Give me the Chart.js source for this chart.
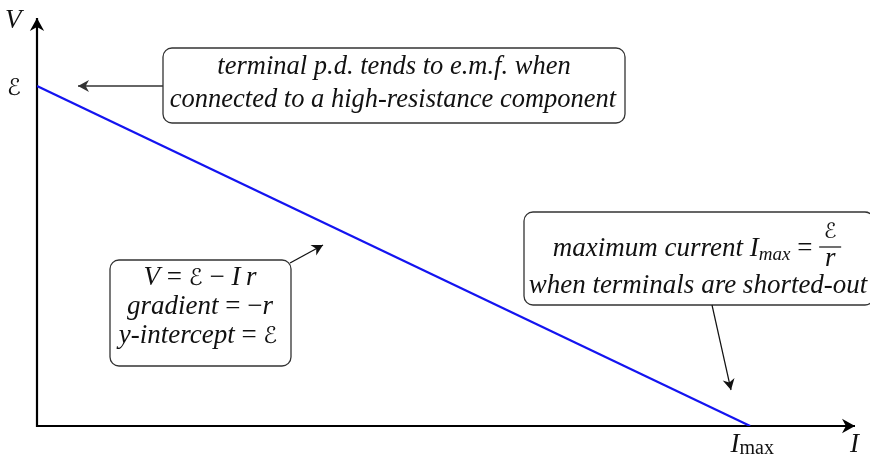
<!DOCTYPE html>
<html>
<head>
<meta charset="utf-8">
<script src="https://cdn.jsdelivr.net/npm/chart.js@4/dist/chart.umd.min.js"></script>
<style>
  html, body { margin: 0; padding: 0; background: #fff; }
  canvas { display: block; }
</style>
</head>
<body>
<canvas id="viChart" width="870" height="458"></canvas>
<script>
// I–V line of a cell: V = E - I r  (arbitrary units, E = 1, Imax = 1)
const currents = [0, 1];
const voltages = [1, 0];
const emfValue = 1;
const imaxValue = 1;
const xAxisMax = 1.147;
const yAxisMax = 1.2;

const SERIF = "'Liberation Serif', 'DejaVu Serif', serif";
const SCRIPT_FONT = "'DejaVu Sans', 'DejaVu Serif', serif";
const SCRIPT_E = '\u2130';

function font(size, italic) {
  return (italic ? 'italic ' : '') + size + 'px ' + SERIF;
}
function scriptFont(size) {
  return size + 'px ' + SCRIPT_FONT;
}

// draw a row of text pieces, centred on cx
function drawRich(ctx, parts, cx, baseline) {
  let total = 0;
  parts.forEach(p => {
    ctx.font = p.f;
    p.w = p.w || ctx.measureText(p.t).width;
    total += p.w;
  });
  let x = cx - total / 2;
  parts.forEach(p => {
    ctx.font = p.f;
    if (p.draw) p.draw(x, baseline);
    else ctx.fillText(p.t, x, baseline + (p.dy || 0));
    x += p.w;
  });
}

function roundBox(ctx, x, y, w, h, r) {
  ctx.beginPath();
  ctx.moveTo(x + r, y);
  ctx.lineTo(x + w - r, y);
  ctx.arcTo(x + w, y, x + w, y + r, r);
  ctx.lineTo(x + w, y + h - r);
  ctx.arcTo(x + w, y + h, x + w - r, y + h, r);
  ctx.lineTo(x + r, y + h);
  ctx.arcTo(x, y + h, x, y + h - r, r);
  ctx.lineTo(x, y + r);
  ctx.arcTo(x, y, x + r, y, r);
  ctx.closePath();
  ctx.fillStyle = '#fff';
  ctx.fill();
  ctx.strokeStyle = '#333';
  ctx.lineWidth = 1.3;
  ctx.stroke();
}

function arrowHead(ctx, x1, y1, x2, y2, size, color) {
  const a = Math.atan2(y2 - y1, x2 - x1);
  ctx.save();
  ctx.translate(x2, y2);
  ctx.rotate(a);
  ctx.beginPath();
  ctx.moveTo(0, 0);
  ctx.lineTo(-size, -size * 0.55);
  ctx.lineTo(-size * 0.7, 0);
  ctx.lineTo(-size, size * 0.55);
  ctx.closePath();
  ctx.fillStyle = color;
  ctx.fill();
  ctx.restore();
}

function arrow(ctx, x1, y1, x2, y2, color, width, size) {
  ctx.beginPath();
  ctx.moveTo(x1, y1);
  ctx.lineTo(x2, y2);
  ctx.strokeStyle = color;
  ctx.lineWidth = width;
  ctx.stroke();
  arrowHead(ctx, x1, y1, x2, y2, size, color);
}

const axesPlugin = {
  id: 'axesPlugin',
  beforeDatasetsDraw(chart) {
    const { ctx, chartArea: a, scales } = chart;
    const x0 = scales.x.getPixelForValue(0);
    const y0 = scales.y.getPixelForValue(0);
    ctx.save();
    // axes with arrows
    arrow(ctx, x0, y0 + 1, x0, a.top, '#000', 2.2, 13);
    arrow(ctx, x0 - 1, y0, a.right, y0, '#000', 2.2, 13);

    ctx.fillStyle = '#111';
    ctx.textBaseline = 'alphabetic';
    ctx.textAlign = 'left';
    // axis names
    ctx.font = font(27, true);
    ctx.fillText('V', 5, 28);
    ctx.fillText('I', a.right - 5, 452);
    // tick labels
    const yE = scales.y.getPixelForValue(emfValue);
    ctx.font = scriptFont(23);
    ctx.fillText(SCRIPT_E, 7, yE + 9);
    const xI = scales.x.getPixelForValue(imaxValue);
    drawRich(ctx, [
      { t: 'I', f: font(27, true) },
      { t: 'max', f: font(20, false), dy: 2 }
    ], xI + 2, 452);
    ctx.restore();
  },
  afterDatasetsDraw(chart) {
    const { ctx, scales } = chart;
    ctx.save();
    ctx.textBaseline = 'alphabetic';
    ctx.textAlign = 'left';
    const yE = scales.y.getPixelForValue(emfValue);

    // box 1: high resistance
    roundBox(ctx, 163, 48, 462, 75, 9);
    arrow(ctx, 163, yE, 78, yE, '#333', 1.3, 11);
    ctx.fillStyle = '#111';
    drawRich(ctx, [{ t: 'terminal p.d. tends to e.m.f. when', f: font(26.5, true) }], 394, 74);
    drawRich(ctx, [{ t: 'connected to a high-resistance component', f: font(26.5, true) }], 393, 107);

    // box 2: equation
    roundBox(ctx, 110, 260, 181, 106, 9);
    arrow(ctx, 290, 263, 323, 245, '#111', 1.3, 11);
    ctx.fillStyle = '#111';
    drawRich(ctx, [
      { t: 'V', f: font(27, true) },
      { t: ' = ', f: font(27, false) },
      { t: SCRIPT_E, f: scriptFont(23) },
      { t: ' \u2212 ', f: font(27, false) },
      { t: 'I\u2009r', f: font(27, true) }
    ], 200, 285);
    drawRich(ctx, [
      { t: 'gradient', f: font(27, true) },
      { t: ' = \u2212', f: font(27, false) },
      { t: 'r', f: font(27, true) }
    ], 200, 314);
    drawRich(ctx, [
      { t: 'y-intercept', f: font(27, true) },
      { t: ' = ', f: font(27, false) },
      { t: SCRIPT_E, f: scriptFont(23) }
    ], 198, 343);

    // box 3: short circuit
    roundBox(ctx, 524, 212, 350, 93, 9);
    arrow(ctx, 712, 305, 731, 390, '#111', 1.2, 11);
    ctx.fillStyle = '#111';
    const fracW = 22;
    drawRich(ctx, [
      { t: 'maximum current ', f: font(27, true) },
      { t: 'I', f: font(27, true) },
      { t: 'max', f: font(19, true), dy: 4 },
      { t: ' = ', f: font(27, false) },
      { t: '', f: font(27, true), w: fracW, draw: (x, b) => {
        ctx.font = scriptFont(21);
        const we = ctx.measureText(SCRIPT_E).width;
        ctx.fillText(SCRIPT_E, x + (fracW - we) / 2, b - 18);
        ctx.font = font(27, true);
        const wr = ctx.measureText('r').width;
        ctx.fillText('r', x + (fracW - wr) / 2, b + 10);
        ctx.beginPath();
        ctx.moveTo(x, b - 9);
        ctx.lineTo(x + fracW, b - 9);
        ctx.strokeStyle = '#111';
        ctx.lineWidth = 1.2;
        ctx.stroke();
      } }
    ], 697, 256);
    drawRich(ctx, [{ t: 'when terminals are shorted-out', f: font(27, true) }], 698, 293);
    ctx.restore();
  }
};

new Chart(document.getElementById('viChart'), {
  type: 'scatter',
  data: {
    datasets: [{
      data: currents.map((c, i) => ({ x: c, y: voltages[i] })),
      showLine: true,
      borderColor: '#1414f0',
      borderWidth: 2.2,
      pointRadius: 0,
      fill: false
    }]
  },
  options: {
    responsive: false,
    animation: false,
    layout: { padding: { left: 37, right: 15, top: 18, bottom: 32 } },
    scales: {
      x: { type: 'linear', min: 0, max: xAxisMax, display: false },
      y: { type: 'linear', min: 0, max: yAxisMax, display: false }
    },
    plugins: {
      legend: { display: false },
      tooltip: { enabled: false }
    }
  },
  plugins: [axesPlugin]
});
</script>
</body>
</html>
